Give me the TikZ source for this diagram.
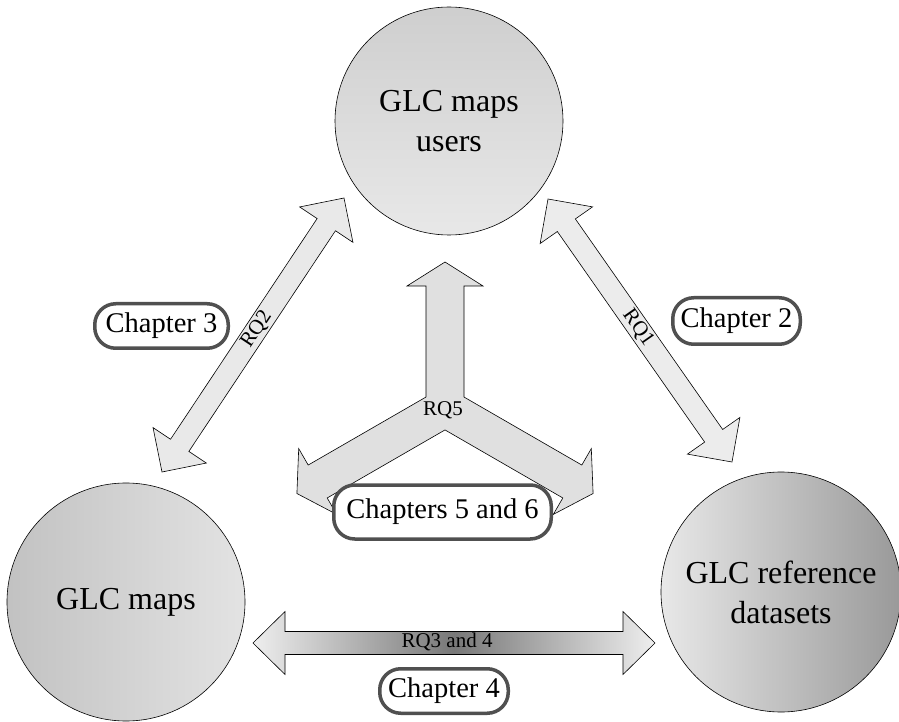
\documentclass[tikz,border=0pt]{standalone}
\usepackage{fontspec}
\setmainfont{Liberation Serif}
\usetikzlibrary{calc}

\definecolor{boxedge}{HTML}{505050}
\definecolor{arrowfill}{HTML}{E9E9E9}
\definecolor{tridentfill}{HTML}{E0E0E0}
\definecolor{barend}{HTML}{EEEEEE}
\definecolor{barmid}{HTML}{787878}

% Double-headed block arrow between two named points:
% #1 style, #2 from, #3 to, #4 half shaft width, #5 head length, #6 half head width
\newcommand\twoheaded[6]{%
  \path[#1] (#2)
    -- ($(#2)!#5!(#3)!#6!90:(#3)$)
    -- ($(#2)!#5!(#3)!#4!90:(#3)$)
    -- ($(#3)!#5!(#2)!#4!-90:(#2)$)
    -- ($(#3)!#5!(#2)!#6!-90:(#2)$)
    -- (#3)
    -- ($(#3)!#5!(#2)!#6!90:(#2)$)
    -- ($(#3)!#5!(#2)!#4!90:(#2)$)
    -- ($(#2)!#5!(#3)!#4!-90:(#3)$)
    -- ($(#2)!#5!(#3)!#6!-90:(#3)$)
    -- cycle;}

\begin{document}
\begin{tikzpicture}[x=1pt,y=1pt,
  entity/.style={circle, draw=black, line width=0.6pt, minimum size=#1,
    inner sep=0pt, align=center, font=\fontsize{32}{40}\selectfont},
  chapter/.style={draw=boxedge, line width=3.5pt, fill=white,
    rounded corners=21pt, inner sep=0pt, font=\fontsize{28.5}{32}\selectfont},
  rqlabel/.style={font=\fontsize{21}{24}\selectfont, inner sep=0pt},
  blockarrow/.style={draw=black, line width=0.6pt, line join=miter}]
\useasboundingbox (0,0) rectangle (899,721);

% the three actors
\node[entity=228pt, top color=gray!38, bottom color=gray!18]
  (users) at (449,600) {GLC maps\\users};
\node[entity=238pt, left color=gray!48, right color=gray!22]
  (maps) at (126,119) {GLC maps};
\node[entity=240pt, left color=gray!18, right color=gray!80]
  (refs) at (781,129) {GLC reference\\datasets};

% end points of the block arrows
\coordinate (rq2a) at (162,249);
\coordinate (rq2b) at (344,523);
\coordinate (rq1a) at (548,522);
\coordinate (rq1b) at (732,259);
\coordinate (rq3a) at (253,78);
\coordinate (rq3b) at (655,78);
\coordinate (hub) at (445,313);

% users <-> maps
\twoheaded{blockarrow, fill=arrowfill}{rq2a}{rq2b}{11pt}{32pt}{32pt}
% users <-> reference datasets
\twoheaded{blockarrow, fill=arrowfill!85!white}{rq1a}{rq1b}{11pt}{32pt}{32pt}
% maps <-> reference datasets
\twoheaded{blockarrow, left color=barend, right color=barend, middle color=barmid}{rq3a}{rq3b}{11.5pt}{32pt}{31.5pt}

% three-way arrow from the hub
\begin{scope}[shift={(hub)}]
\path[blockarrow, fill=tridentfill]
  (30:21.94) -- (19,122) -- (38,122) -- (0,146) -- (-38,122) -- (-19,122)
  -- (150:21.94)
  -- ([rotate=120]19,147) -- ([rotate=120]38,147) -- ([rotate=120]0,171)
  -- ([rotate=120]-38,147) -- ([rotate=120]-19,147)
  -- (270:21.94)
  -- ([rotate=240]19,147) -- ([rotate=240]38,147) -- ([rotate=240]0,171)
  -- ([rotate=240]-38,147) -- ([rotate=240]-19,147)
  -- cycle;
\end{scope}

% research question labels
\path (rq2a) -- (rq2b) node[rqlabel, pos=0.52, sloped] (lrq2) {RQ2};
\path (rq1a) -- (rq1b) node[rqlabel, pos=0.49, sloped] (lrq1) {RQ1};
\node[rqlabel] (lrq3) at (447,79) {RQ3 and 4};
\node[rqlabel] (lrq5) at (443,311) {RQ5};

% chapter tags
\node[chapter, minimum width=133.5pt, minimum height=44.5pt] (ch3) at (161.5,395) {Chapter 3};
\node[chapter, minimum width=127.5pt, minimum height=46.5pt] (ch2) at (736.5,400) {Chapter 2};
\node[chapter, minimum width=128.5pt, minimum height=44.5pt] (ch4) at (444,30) {Chapter 4};
\node[chapter, minimum width=217.5pt, minimum height=54pt] (ch56) at (442.5,209) {Chapters 5 and 6};
\end{tikzpicture}
\end{document}
